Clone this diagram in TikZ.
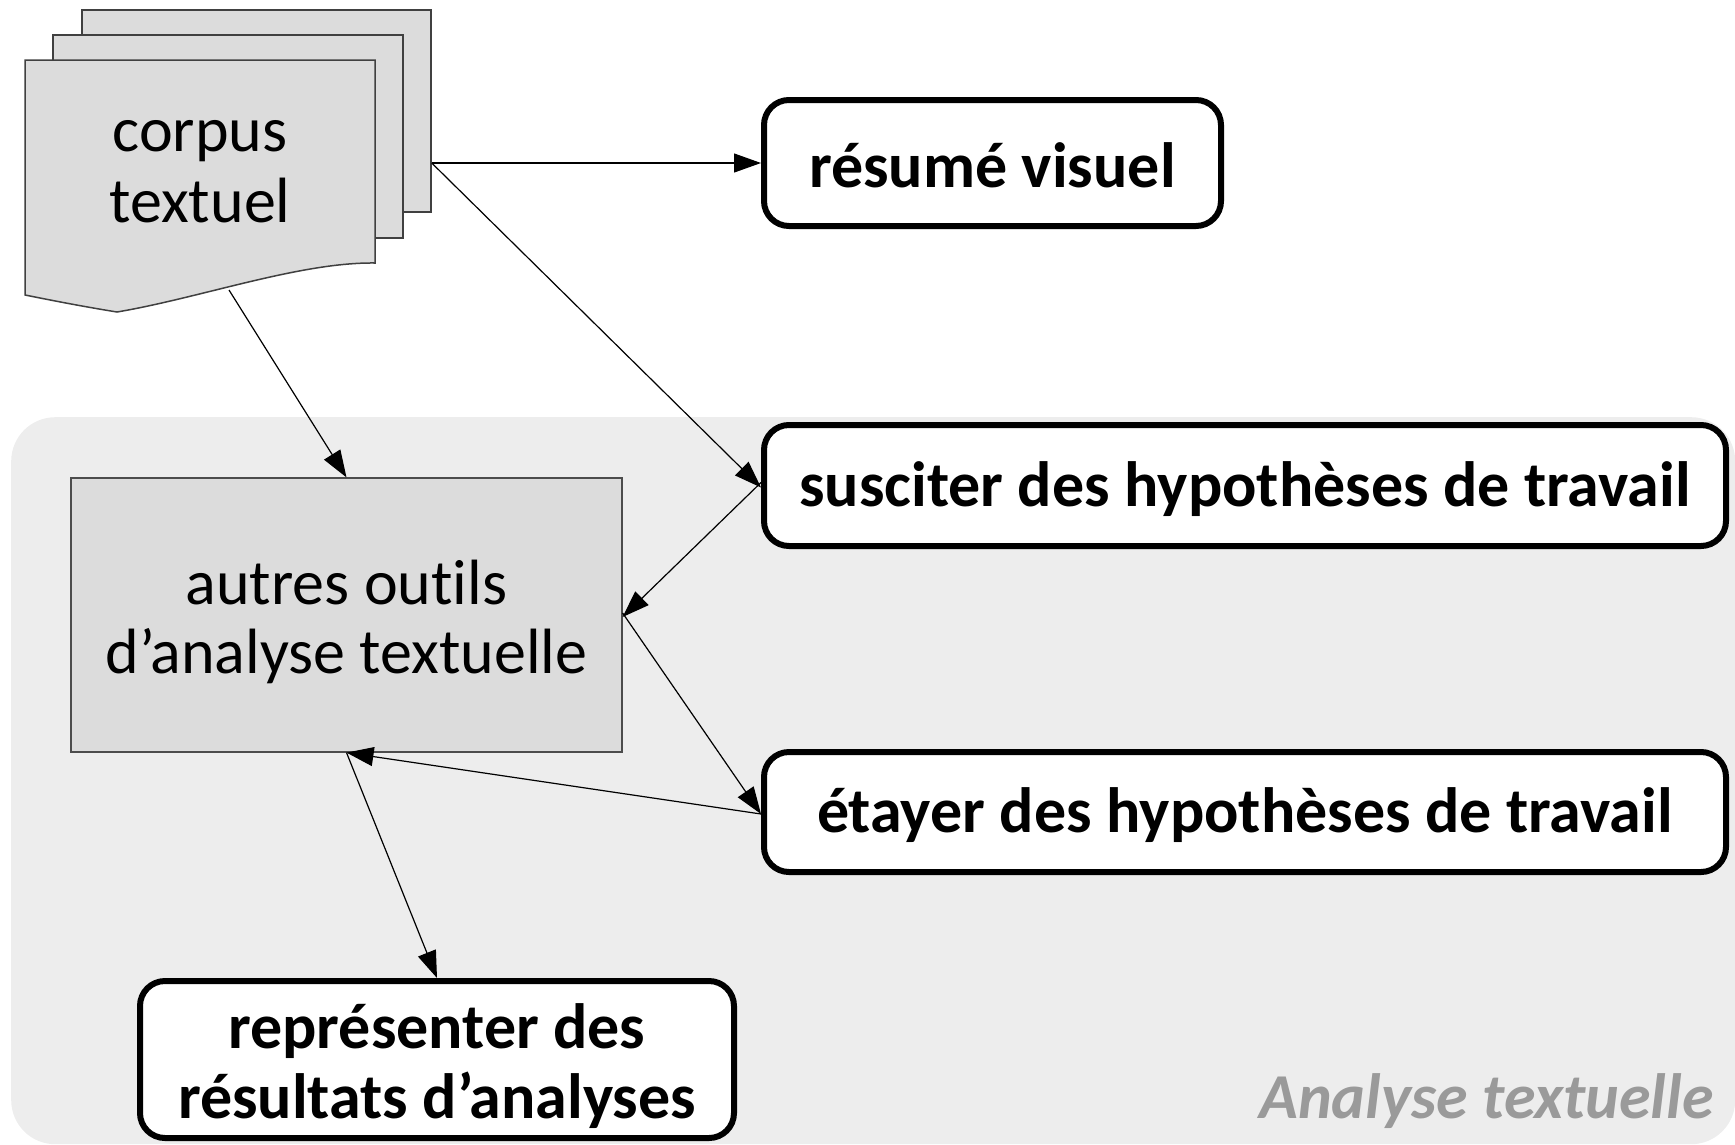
\documentclass[tikz,border=0pt]{standalone}
\usepackage{fontspec}
\setmainfont{Carlito}[Ligatures=NoCommon]
\usetikzlibrary{arrows.meta,calc}
\definecolor{pagegray}{HTML}{DCDCDC}
\definecolor{groupgray}{HTML}{EDEDED}
\definecolor{labelgray}{HTML}{9A9A9A}
\begin{document}
\begin{tikzpicture}[x=1pt,y=-1pt,
  page/.style={draw=black!75, line width=1.5pt, fill=pagegray},
  bigbox/.style={draw=black, line width=6pt, rounded corners=25pt, fill=white,
    font=\bfseries\fontsize{64}{70}\selectfont, align=center, inner sep=0pt},
  toolbox/.style={draw=black!70, line width=1.2pt, fill=pagegray, inner sep=0pt,
    font=\fontsize{64}{69}\selectfont, align=center},
  conn/.style={draw=black, line width=1.2pt, -{Triangle[length=27pt,width=19pt]}}]
\useasboundingbox (0,0) rectangle (1735,1144);
% group background
\node[fill=groupgray, rounded corners=44pt, minimum width=1724pt, minimum height=727pt,
  inner sep=0pt, anchor=north west] (group) at (11,417) {};
\node[anchor=base east, inner sep=0pt, text=labelgray,
  font=\bfseries\itshape\fontsize{64}{69}\selectfont] (grouplabel) at (1714,1118) {Analyse textuelle};
% corpus pages
\node[page, minimum width=349pt, minimum height=202pt, inner sep=0pt] (back) at (256.5,111) {};
\node[page, minimum width=350pt, minimum height=203pt, inner sep=0pt] (middle) at (228,136.5) {};
\draw[page] (25,60) -- (375,60) -- (375,263)
  .. controls (300,262) and (200,298) .. (117,312)
  .. controls (80,306) and (50,300) .. (25,295) -- cycle;
\coordinate (wave) at (229,290);
\node[inner sep=0pt, align=center, font=\fontsize{64}{71}\selectfont] (corpus) at (200,172) {corpus\\textuel};
% boxes
\node[bigbox, minimum width=457pt, minimum height=126pt] (resume) at (992.5,163) {};
\node[font=\bfseries\fontsize{64}{70}\selectfont, inner sep=0pt] (resumetxt) at (992.5,165) {résumé visuel};
\node[bigbox, minimum width=962pt, minimum height=121pt] (susciter) at (1245,485.5) {};
\node[font=\bfseries\fontsize{64}{70}\selectfont, inner sep=0pt] (susctxt) at (1245,489) {susciter des hypothèses de travail};
\node[bigbox, minimum width=962pt, minimum height=120pt] (etayer) at (1245,812) {};
\node[font=\bfseries\fontsize{64}{70}\selectfont, inner sep=0pt] (etaytxt) at (1245,815) {étayer des hypothèses de travail};
\node[bigbox, minimum width=594pt, minimum height=157pt] (representer) at (437,1059.5) {};
\node[font=\bfseries\fontsize{64}{70}\selectfont, inner sep=0pt, align=center] (reprtxt) at (437,1066) {représenter des\\résultats d’analyses};
\node[toolbox, minimum width=551pt, minimum height=274pt] (autres) at (346.5,615) {};
\node[font=\fontsize{64}{69}\selectfont, inner sep=0pt, align=center] (autrestxt) at (346.5,622) {autres outils\\d’analyse textuelle};
% connectors
\draw[conn] (back.east |- resume.west) -- (resume.west);
\draw[conn] (back.east |- resume.west) -- ([yshift=-2pt]susciter.west);
\draw[conn] (wave) -- (autres.north);
\draw[conn] ([yshift=3pt]susciter.west) -- ([yshift=-2pt]autres.east);
\draw[conn] ([yshift=2pt]autres.east) -- ([yshift=-2pt]etayer.west);
\draw[conn] ([yshift=-2pt]etayer.west) -- (autres.south);
\draw[conn] (autres.south) -- (representer.north);
\end{tikzpicture}
\end{document}
